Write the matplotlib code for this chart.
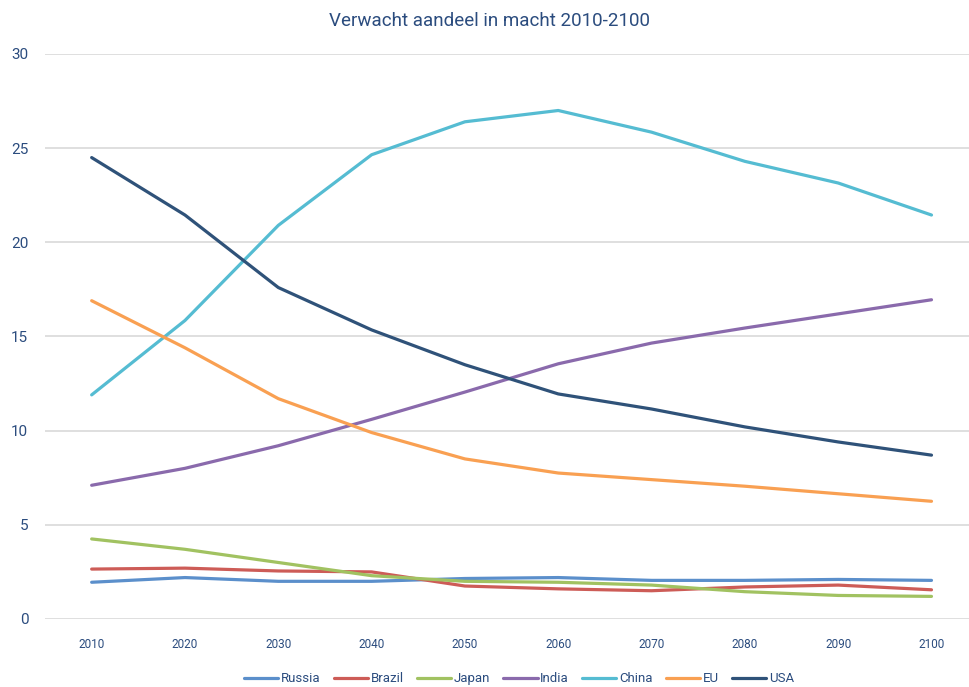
import matplotlib
matplotlib.use("Agg")
import matplotlib.pyplot as plt

years = [2010, 2020, 2030, 2040, 2050, 2060, 2070, 2080, 2090, 2100]

russia = [1.95, 2.2, 2.0, 2.0, 2.15, 2.2, 2.05, 2.05, 2.1, 2.05]
brazil = [2.65, 2.7, 2.55, 2.5, 1.75, 1.6, 1.5, 1.7, 1.8, 1.55]
japan = [4.25, 3.7, 3.0, 2.3, 2.0, 1.95, 1.8, 1.45, 1.25, 1.2]
india = [7.1, 8.0, 9.2, 10.6, 12.05, 13.55, 14.65, 15.45, 16.2, 16.95]
china = [11.9, 15.85, 20.9, 24.65, 26.4, 27.0, 25.85, 24.3, 23.15, 21.45]
eu = [16.9, 14.4, 11.7, 9.9, 8.5, 7.75, 7.4, 7.05, 6.65, 6.25]
usa = [24.5, 21.45, 17.6, 15.35, 13.5, 11.95, 11.15, 10.2, 9.4, 8.7]

series = [
    ("Russia", russia, "#5B8FCB"),
    ("Brazil", brazil, "#CD5C57"),
    ("Japan", japan, "#A1C261"),
    ("India", india, "#8A6AAC"),
    ("China", china, "#55BCD2"),
    ("EU", eu, "#F9A052"),
    ("USA", usa, "#2F5279"),
]

plt.rcParams["font.family"] = ["Roboto", "DejaVu Sans"]
text_color = "#2B4C7E"

fig = plt.figure(figsize=(9.7, 6.87), dpi=100)
ax = fig.add_axes([0.0464, 0.099, 0.962, 0.8224])

for name, vals, col in series:
    ax.plot(years, vals, color=col, linewidth=2.3, label=name, solid_capstyle="round")

ax.set_xlim(2005, 2105)
ax.set_ylim(0, 30)
ax.set_yticks([0, 5, 10, 15, 20, 25, 30])
ax.set_xticks(years)
ax.grid(axis="y", color="#D9D9D9", linewidth=1.2)
ax.set_axisbelow(True)
for s in ax.spines.values():
    s.set_visible(False)
ax.tick_params(axis="both", length=0)
ax.tick_params(axis="y", labelsize=11, labelcolor=text_color, pad=12)
ax.tick_params(axis="x", labelsize=8.5, labelcolor=text_color, pad=14)

fig.text(0.505, 0.97, "Verwacht aandeel in macht 2010-2100", ha="center", va="center",
         fontsize=13.5, color=text_color)

fig.legend(loc="center", bbox_to_anchor=(0.535, 0.012), ncol=7, frameon=False,
           fontsize=9.5, handlelength=2.6, handletextpad=0.2, columnspacing=1.0,
           labelcolor=text_color)

fig.savefig("out.png", dpi=100)
